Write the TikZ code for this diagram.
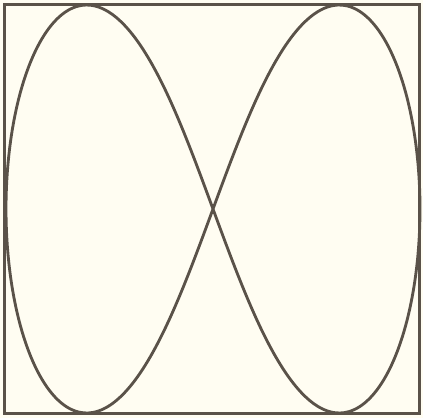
\documentclass[tikz,border=0pt]{standalone}
\usepackage{tikz}
\definecolor{paper}{HTML}{FFFDF2}
\definecolor{ink}{HTML}{5A5249}
\begin{document}
\begin{tikzpicture}[x=0.03cm,y=-0.03cm,
  frame/.style={draw=ink,line width=0.1cm},
  curve/.style={draw=ink,line width=0.085cm,line join=round}]
\fill[paper] (0,0) rectangle (423,418);
\useasboundingbox (0,0) rectangle (423,418);
\draw[frame] (4.5,4.5) rectangle (419.5,413.5);
\draw[curve] plot[domain=0:360,samples=240,smooth cycle,variable=\t]
  ({213+207*(sin(\t)-0.0735*sin(3*\t))/1.0735},{209+204*sin(2*\t)});
\end{tikzpicture}
\end{document}
